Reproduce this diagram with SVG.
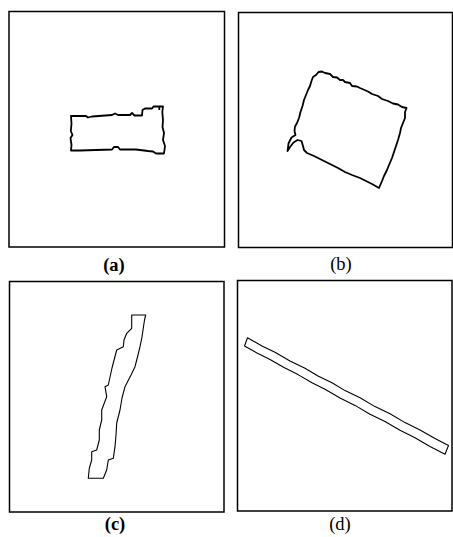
<svg xmlns="http://www.w3.org/2000/svg" width="453" height="537" viewBox="0 0 453 537">
<style>
.frame{fill:none;stroke:#000;stroke-width:1.5}
.shape{fill:none;stroke:#000;stroke-linejoin:round}
.thick{stroke-width:1.8}
.thin{stroke-width:1.1}
.lbl{font-family:"Liberation Serif","Times New Roman",serif;font-size:18.5px;text-anchor:middle;fill:#000}
</style>
<rect width="453" height="537" fill="#fff"/>
<g id="panel-a">
<rect class="frame" x="9" y="11.5" width="215.5" height="235.5"/>
<path class="shape thick" d="M71,116 L86,116 L88,117.5 L92,116.5 L112,115 L115,113.5 L118,115 L130,115 L132,113 L134.5,115.5 L142,115.5 L142.5,110 L145,108.5 L152,108.5 L153.5,106.5 L163,106.5 L162.3,112 L163,120 L162.5,127 L164,133 L163,140 L165,146 L164,153.5 L156,153.5 L153,151.5 L148,151 L136,149.5 L120,149.5 L118,147 L114,147 L112,149.5 L96,150 L80,150.5 L71,150.5 L71.5,145 L70.5,138 L72.5,135 L70.8,131 L71.5,124 L71,116 Z"/>
<path class="shape thick" d="M159.3,106 L159.3,110"/>
<text class="lbl" x="114" y="271" font-weight="bold">(a)</text>
</g>
<g id="panel-b">
<rect class="frame" x="238.5" y="12.5" width="214" height="235"/>
<path class="shape thick" d="M318.5,72 L322,71.5 L325,73 L330,74 L333,77 L337,77.5 L340,80 L343,80 L345,82 L350,83 L352,86 L357,86.5 L360,88 L368,91.5 L372,94 L378,96 L382,99 L388,101 L393,103.5 L398,104.5 L402,107 L406.5,108 L405,112 L405,118 L403,123 L401,128 L400,133 L398,140 L396,146 L394,152 L392,158 L389,165 L387,170 L384,176 L382,181 L379,188 L372,184 L366,181 L360,178 L352,175 L345,172 L338,168 L330,164 L322,160 L314,156 L307,153 L304,150 L303,146 L301.5,141 L297.5,140 L293.5,142.5 L290,147 L287.5,151 L288.5,143.5 L291.5,137.5 L295.5,135 L294.5,131 L295,126.5 L297,123 L299,118 L300.5,112 L302.5,106 L304,100 L306,95 L308,90 L310,86 L311.5,81 L313,77 L316,75 Z"/>
<text class="lbl" x="341" y="270">(b)</text>
</g>
<g id="panel-c">
<rect class="frame" x="9.5" y="281.5" width="214.5" height="230.5"/>
<path class="shape thin" d="M131.7,315 L145.7,315 L144.5,320 L143.3,328 L142,337 L140,346.7 L138,355 L135,366.7 L131,375 L125,386.7 L122,398 L120,410 L116.7,423 L116,435 L115,446.7 L113.3,458.3 L108.3,460 L106.7,470 L103.3,478.3 L88.3,478.3 L89.3,468.3 L91.7,460 L91.7,451.7 L96.7,450 L99.3,440 L99.3,430 L101.7,420 L101.7,410 L106.7,396.7 L105,386.7 L108.3,385 L112,368 L116.7,350 L123.3,346.7 L124,340 L126.7,333.3 L131.7,328.3 L131.7,315 Z"/>
<text class="lbl" x="115" y="530" font-weight="bold">(c)</text>
</g>
<g id="panel-d">
<rect class="frame" x="237.5" y="280.5" width="214.5" height="230.5"/>
<path class="shape thin" d="M247.5,337.8 L262,346 L275,352.3 L290,361 L305,368.3 L318,376 L332,382.8 L345,390.6 L360,397.8 L375,406.6 L390,413.8 L405,422.6 L420,430 L435,438.6 L448.5,445.5 L445,454.3 L430,446.5 L415,437.8 L400,430.3 L385,421.6 L370,414.2 L355,405.4 L340,397.9 L325,389.2 L312,382.8 L298,374.6 L284,367.6 L270,359.5 L257,353 L244.5,346 Z"/>
<text class="lbl" x="340" y="530">(d)</text>
</g>
</svg>
